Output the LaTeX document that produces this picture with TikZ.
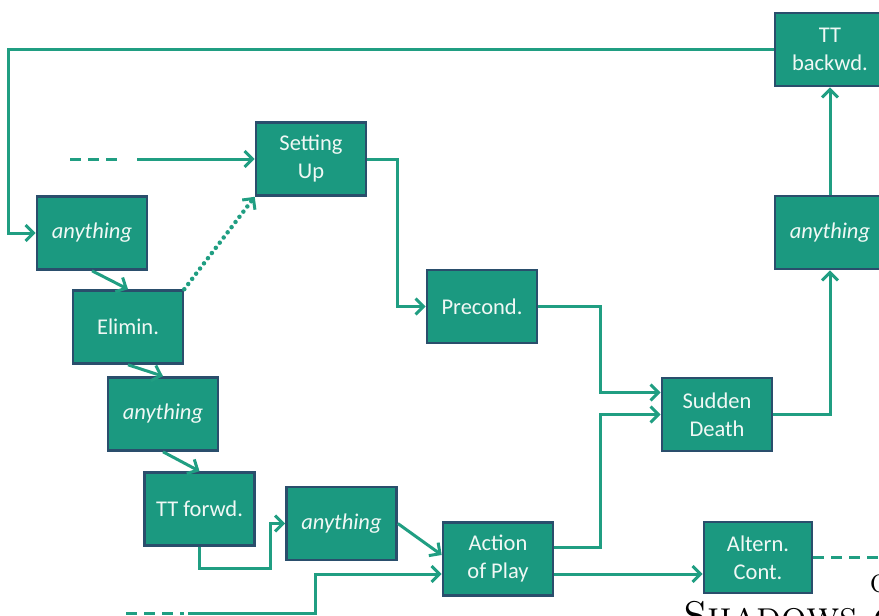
\documentclass[tikz,border=0pt]{standalone}
\usepackage{fontspec}
\newfontfamily\boxfont{Carlito}
\usetikzlibrary{arrows.meta}
\definecolor{boxfill}{RGB}{27,153,128}
\definecolor{boxline}{RGB}{42,78,108}
\definecolor{flowcol}{RGB}{32,158,130}
\begin{document}
\begin{tikzpicture}[x=1pt, y=-1pt]
	\tikzstyle{block} = [rectangle,draw=boxline,fill=boxfill,line width=2.6pt,minimum width=110pt,minimum height=73pt,inner sep=2pt,align=center,text={rgb,255:red,240;green,248;blue,245},font=\boxfont\fontsize{22.5}{28}\selectfont]
	\tikzstyle{flow} = [draw=flowcol,line width=3pt,-{Straight Barb[length=8pt,width=16pt]}]
	\tikzstyle{loose} = [draw=flowcol,line width=3pt,dash pattern=on 11pt off 7pt]
	\useasboundingbox (0,0) rectangle (879,616);
	% caption text behind the figure
	\node[anchor=base west,inner sep=0,font=\fontsize{40}{48}\selectfont](capc)at(870,592){c};
	\node[anchor=base west,inner sep=0,font=\fontsize{40}{48}\selectfont](capshadows)at(683,629){\textsc{Shadows of}};
	% blocks
	\node[block](backwd)at(830,49.5){TT\\backwd.};
	\node[block](setup)at(311,159){Setting\\Up};
	\node[block](any1)at(92,233){\itshape anything};
	\node[block](elim)at(128,327){Elimin.};
	\node[block](any2)at(163,414){\itshape anything};
	\node[block](ttf)at(199.5,509){TT forwd.};
	\node[block](any3)at(341.5,523.5){\itshape anything};
	\node[block](action)at(498,559){Action\\of Play};
	\node[block](precond)at(482,306.5){Precond.};
	\node[block](sudden)at(717,414.5){Sudden\\Death};
	\node[block](any4)at(830,232.5){\itshape anything};
	\node[block,minimum width=108pt,minimum height=71pt](altern)at(758,557.5){Altern.\\Cont.};
	\coordinate(topin)at(137,159);
	\coordinate(topdash)at(70,159);
	\coordinate(botin)at(188,613);
	\coordinate(botdash)at(126,613);
	% connectors
	\draw[flow] (backwd.west) -| ([xshift=-27pt]any1.west) -- (any1.west);
	\draw[loose] (topdash) -- ++(50,0);
	\draw[flow] (topin) -- (setup.west);
	\path (any1.south) edge[flow] (elim.north)
	(elim.south) edge[flow] (any2.north)
	(any2.south) edge[flow] (ttf.north);
	\draw[flowcol,line width=4.5pt,line cap=round,dash pattern=on 0pt off 6.5pt,-{Straight Barb[length=8pt,width=16pt,line width=3pt]}] (elim.north east) -- (setup.south west);
	\draw[flow] (setup.east) -- ++(30,0) |- (precond.west);
	\draw[flow] (precond.east) -- ++(62,0) |- ([yshift=22pt]sudden.west);
	\draw[flow] ([yshift=12pt]action.east) -- ++(46,0) |- (sudden.west);
	\draw[flow] (sudden.east) -| (any4.south);
	\draw[flow] (any4.north) -- (backwd.south);
	\draw[flow] (ttf.south) -- ++(0,22) -| ([xshift=-15pt]any3.west) -- (any3.west);
	\draw[flow] (any3.east) -- ([yshift=4pt]action.west);
	\draw[loose] (botdash) -- ++(58,0);
	\draw[flow] (botin) -- ++(127,0) |- ([yshift=-15pt]action.west);
	\draw[flow] ([yshift=-15pt]action.east) -- ([yshift=-15pt]action.east -| altern.west);
	\draw[loose] (altern.east) -- ++(70,0);
\end{tikzpicture}
\end{document}
